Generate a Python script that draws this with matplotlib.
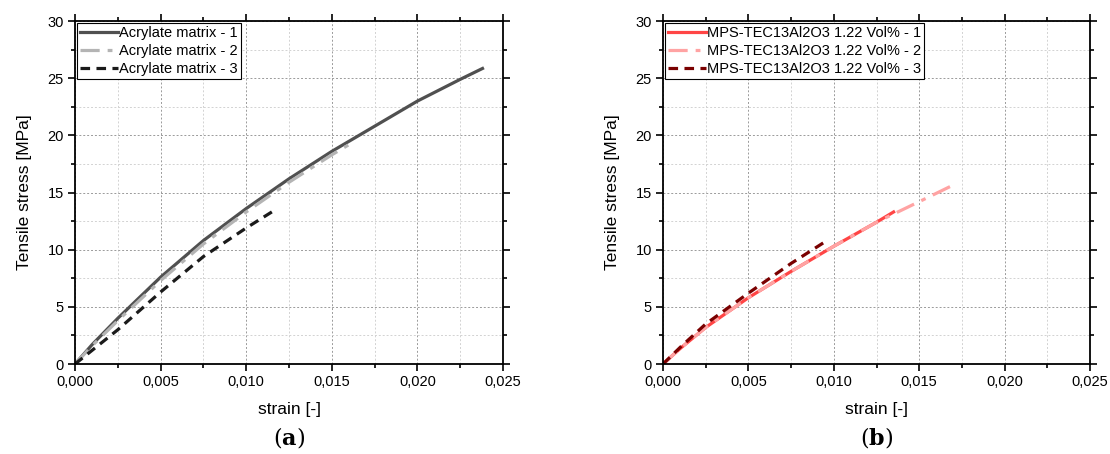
import matplotlib.pyplot as plt
from matplotlib.ticker import MultipleLocator, FuncFormatter

plt.rcParams['font.family'] = ['Liberation Sans', 'DejaVu Sans']
plt.rcParams['mathtext.fontset'] = 'dejavuserif'

# (a) acrylate matrix
acr1_x = [0, 0.001, 0.0025, 0.005, 0.0075, 0.010, 0.0125, 0.015, 0.0175, 0.020, 0.0225, 0.0238]
acr1_y = [0, 1.7, 4.0, 7.6, 10.8, 13.6, 16.2, 18.6, 20.8, 23.0, 24.9, 25.85]
acr2_x = [0, 0.001, 0.0025, 0.005, 0.0075, 0.010, 0.0125, 0.015, 0.0163]
acr2_y = [0, 1.6, 3.8, 7.3, 10.5, 13.3, 15.9, 18.3, 19.45]
acr3_x = [0, 0.001, 0.0025, 0.005, 0.0075, 0.010, 0.0116]
acr3_y = [0, 1.2, 3.0, 6.3, 9.4, 11.9, 13.4]

# (b) MPS-TEC13Al2O3 1.22 Vol%
mps1_x = [0, 0.001, 0.0025, 0.005, 0.0075, 0.010, 0.0125, 0.0135]
mps1_y = [0, 1.35, 3.2, 5.8, 8.1, 10.3, 12.4, 13.3]
mps2_x = [0, 0.001, 0.0025, 0.005, 0.0075, 0.010, 0.0125, 0.015, 0.0170]
mps2_y = [0, 1.35, 3.2, 5.8, 8.1, 10.3, 12.4, 14.2, 15.66]
mps3_x = [0, 0.001, 0.0025, 0.005, 0.0075, 0.0096]
mps3_y = [0, 1.45, 3.5, 6.2, 8.8, 10.8]

fig = plt.figure(figsize=(11.1, 4.54), dpi=100)
ax_a = fig.add_axes([0.0676, 0.1982, 0.3856, 0.7555])
ax_b = fig.add_axes([0.5973, 0.1982, 0.3847, 0.7555])


def style_axes(ax):
    ax.set_xlim(0, 0.025)
    ax.set_ylim(0, 30)
    ax.xaxis.set_major_locator(MultipleLocator(0.005))
    ax.xaxis.set_minor_locator(MultipleLocator(0.0025))
    ax.yaxis.set_major_locator(MultipleLocator(5))
    ax.yaxis.set_minor_locator(MultipleLocator(2.5))
    ax.xaxis.set_major_formatter(FuncFormatter(lambda v, p: f"{v:.3f}".replace('.', ',')))
    ax.tick_params(which='both', direction='out', top=True, right=True,
                   labeltop=False, labelright=False, width=1.2, labelsize=10.5)
    ax.tick_params(which='major', length=5, pad=3)
    ax.tick_params(which='minor', length=3)
    for s in ax.spines.values():
        s.set_linewidth(1.3)
    ax.grid(which='major', ls=(0, (2, 2)), color='#9a9a9a', lw=0.7)
    ax.grid(which='minor', ls=(0, (2, 2)), color='#d2d2d2', lw=0.7)
    ax.set_axisbelow(True)
    ax.set_xlabel('strain [-]', fontsize=12.5, labelpad=9)
    ax.set_ylabel('Tensile stress [MPa]', fontsize=12.5, labelpad=11)


style_axes(ax_a)
ax_a.plot(acr1_x, acr1_y, color='#505050', lw=2.3, label='Acrylate matrix - 1')
ax_a.plot(acr2_x, acr2_y, color='#b4b4b4', lw=2.3, ls=(0, (6, 2.5, 1.5, 2.5)),
          label='Acrylate matrix - 2')
ax_a.plot(acr3_x, acr3_y, color='#1a1a1a', lw=2.3, ls=(0, (3, 2)),
          label='Acrylate matrix - 3')

style_axes(ax_b)
ax_b.plot(mps1_x, mps1_y, color='#ff4545', lw=2.3, label='MPS-TEC13Al2O3 1.22 Vol% - 1')
ax_b.plot(mps2_x, mps2_y, color='#ffa3a3', lw=2.3, ls=(0, (6, 2.5, 1.5, 2.5)),
          label='MPS-TEC13Al2O3 1.22 Vol% - 2')
ax_b.plot(mps3_x, mps3_y, color='#7a0000', lw=2.3, ls=(0, (3, 2)),
          label='MPS-TEC13Al2O3 1.22 Vol% - 3')

for ax in (ax_a, ax_b):
    leg = ax.legend(loc='upper left', fontsize=10.5, frameon=True, fancybox=False,
                    borderaxespad=0.12, borderpad=0.2, labelspacing=0.3,
                    handlelength=2.6, handletextpad=0.1)
    leg.get_frame().set_edgecolor('black')
    leg.get_frame().set_linewidth(0.8)
    leg.get_frame().set_alpha(1)

fig.text(0.2604, 0.022, r'($\mathbf{a}$)', ha='center', fontsize=16, family='DejaVu Serif')
fig.text(0.7897, 0.022, r'($\mathbf{b}$)', ha='center', fontsize=16, family='DejaVu Serif')

fig.savefig('out.png', dpi=100)
